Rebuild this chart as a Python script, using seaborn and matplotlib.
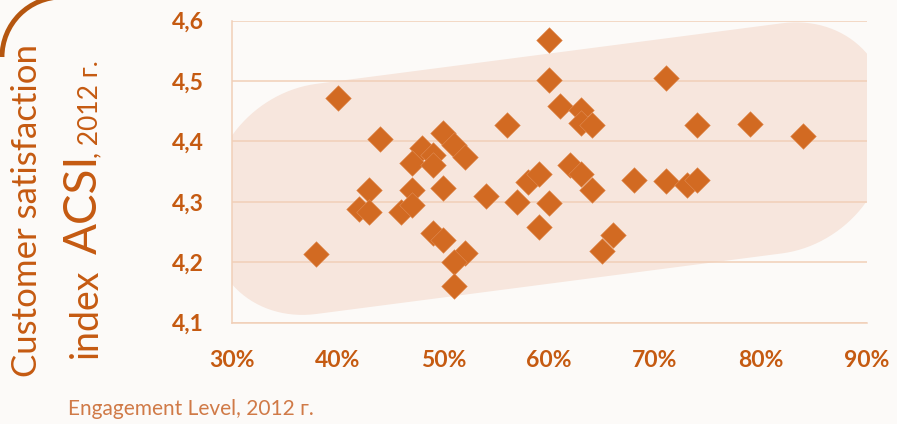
import numpy as np
import pandas as pd
import matplotlib
matplotlib.use("Agg")
import matplotlib.pyplot as plt
from matplotlib.patches import Arc
import seaborn as sns

# engagement level (%) and ACSI, 2012
engagement = [38, 40, 44, 42, 43, 43, 47, 46, 47, 50, 54, 49, 50, 52, 51, 51,
              50, 51, 52, 48, 49, 47, 49, 60, 60, 61, 63, 63, 64, 56, 57, 58,
              59, 60, 59, 62, 63, 64, 66, 65, 68, 71, 74, 79, 84, 71, 73, 74]
acsi = [4.214, 4.472, 4.404, 4.289, 4.320, 4.284, 4.320, 4.284, 4.295, 4.323,
        4.310, 4.248, 4.237, 4.215, 4.201, 4.160, 4.414, 4.394, 4.375, 4.389,
        4.378, 4.364, 4.361, 4.568, 4.502, 4.458, 4.452, 4.430, 4.427, 4.427,
        4.300, 4.333, 4.347, 4.299, 4.259, 4.361, 4.347, 4.320, 4.245, 4.218,
        4.336, 4.505, 4.427, 4.429, 4.409, 4.335, 4.328, 4.336]

x_ticks = [30, 40, 50, 60, 70, 80, 90]
y_ticks = [4.1, 4.2, 4.3, 4.4, 4.5, 4.6]

BG = "#FCFAF8"
BAND = "#F7E6DD"
GRID = "#F1CFB8"
MARK = "#D26A22"
TEXT = "#C55A11"
XLAB = "#D07A47"

df = pd.DataFrame({"engagement": engagement, "acsi": acsi})

sns.set_style("white")
plt.rcParams["font.family"] = ["Lato", "DejaVu Sans"]

fig = plt.figure(figsize=(8.97, 4.24), dpi=100, facecolor=BG)
ax = fig.add_axes([231.7 / 897, 1 - 322.7 / 424, 635 / 897, 302 / 424])
ax.set_facecolor(BG)

# light rounded band behind the points
slope, lo, h = 0.00228, 4.119, 0.381
x0, x1, rx, ry = 28.0, 92.0, 10.0, 0.17
t = np.linspace(0, np.pi / 2, 30)
pts = []
for cx, cy, a0 in [(x1 - rx, h - ry, 0), (x0 + rx, h - ry, np.pi / 2),
                   (x0 + rx, ry, np.pi), (x1 - rx, ry, 1.5 * np.pi)]:
    a = a0 + t
    pts.append(np.column_stack([cx + rx * np.cos(a), cy + ry * np.sin(a)]))
p = np.vstack(pts)
ax.fill(p[:, 0], p[:, 1] + lo + slope * (p[:, 0] - 40), color=BAND, lw=0, zorder=0.2)

sns.scatterplot(data=df, x="engagement", y="acsi", marker="D", s=170,
                color=MARK, edgecolor="#E08B52", linewidth=0.4, ax=ax, zorder=3)

ax.set_xlim(30, 90)
ax.set_ylim(4.1, 4.6)
ax.set_xticks(x_ticks, labels=[f"{v}%" for v in x_ticks], fontweight="bold")
ax.set_yticks(y_ticks, labels=[f"{v:.1f}".replace(".", ",") for v in y_ticks],
              fontweight="bold")
ax.tick_params(axis="both", length=9, width=1.1, color=GRID, labelcolor=TEXT,
               labelsize=16.5, pad=11)
ax.set_axisbelow(True)
ax.yaxis.grid(True, color=GRID, lw=1.1)
ax.xaxis.grid(False)
for side in ["top", "right"]:
    ax.spines[side].set_visible(False)
for side in ["left", "bottom"]:
    ax.spines[side].set_color(GRID)
    ax.spines[side].set_linewidth(1.1)
ax.set_xlabel("")
ax.set_ylabel("")

# y label, two rotated lines
fig.text(37 / 897, 1 - 377 / 424, "Customer satisfaction", rotation=90,
         rotation_mode="anchor", ha="left", va="baseline", fontsize=25, color=TEXT)

r = fig.canvas.get_renderer()
ypos = 1 - 358 / 424
for txt, size, gap in [("index", 27, 15), ("ACSI", 33, -4), (", 2012 г.", 19, 0)]:
    tt = fig.text(97 / 897, ypos, txt, rotation=90, rotation_mode="anchor",
                  ha="left", va="baseline", fontsize=size, color=TEXT)
    bb = tt.get_window_extent(r)
    ypos = (bb.y1 + gap) / fig.bbox.height

fig.text(68 / 897, 1 - 415 / 424, "Engagement Level, 2012 г.", ha="left",
         va="baseline", fontsize=15, color=XLAB)

# corner arc of the slide frame
fig.add_artist(Arc((62 / 897, 1 - 57 / 424), 120 / 897, 120 / 424, theta1=90,
                   theta2=180, transform=fig.transFigure, color="#B55610", lw=3.5))

fig.savefig("out.png", dpi=100, facecolor=BG)
